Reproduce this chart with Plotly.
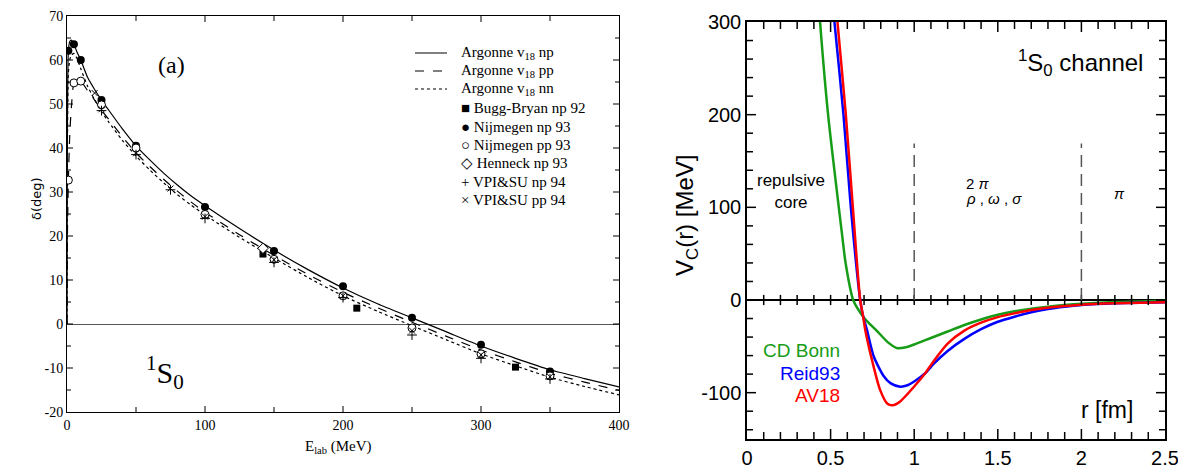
import plotly.graph_objects as go

# the page body has an 8px margin, so the figure is shrunk and shifted by it
OFF = 8
W, H = 1186 - OFF, 468 - OFF


def px(x):
    return (x - OFF) / W


def py(y):
    return 1 - (y - OFF) / H


# ---- panel (a): 1S0 phase shifts ----
e_th = [0, 0.3, 1, 2, 3, 5, 7, 10, 15, 20, 25, 30, 40, 50, 60, 70, 80, 90, 100,
        125, 150, 175, 200, 225, 250, 275, 300, 325, 350, 375, 400]
av18_np = [0, 45, 62.0, 64.2, 64.5, 63.6, 62.0, 60.0, 56.0, 53.3, 50.9, 48.7, 44.4,
           40.5, 37.3, 34.3, 31.6, 29.1, 26.9, 21.7, 16.8, 12.3, 8.2, 4.6, 1.4,
           -1.8, -5.0, -7.8, -10.4, -12.4, -14.3]
av18_pp = [0, 20, 32.7, 43.0, 48.5, 54.8, 55.5, 55.2, 53.0, 50.9, 48.6, 46.6, 42.6,
           38.9, 35.8, 32.9, 30.2, 27.7, 25.4, 20.3, 15.6, 11.2, 7.2, 3.7, 0.4,
           -2.8, -5.9, -8.6, -11.2, -13.2, -15.1]
av18_nn = [0, 40, 57.0, 60.0, 61.0, 61.5, 60.5, 58.0, 54.0, 51.0, 48.3, 46.0, 41.8,
           38.2, 35.0, 32.1, 29.4, 27.0, 24.8, 19.7, 15.0, 10.5, 6.4, 2.9, -0.4,
           -3.6, -6.8, -9.5, -12.1, -14.2, -16.1]

bugg_e = [142, 210, 325]
bugg_d = [15.9, 3.6, -9.8]
nij_np_e = [1, 5, 10, 25, 50, 100, 150, 200, 250, 300, 350]
nij_np_d = [62.1, 63.6, 60.0, 50.9, 40.5, 26.6, 16.6, 8.6, 1.4, -4.7, -10.8]
nij_pp_e = [1, 5, 10, 25, 50, 100, 150, 200, 250, 300, 350]
nij_pp_d = [32.7, 54.8, 55.2, 49.8, 40.0, 24.9, 14.7, 6.4, -0.9, -6.8, -11.8]
henneck_e = [142]
henneck_d = [17.2]
vpi_np_e = [25, 50, 75, 100, 150, 200, 250, 300, 350]
vpi_np_d = [48.5, 38.5, 30.5, 24.0, 14.0, 6.0, -2.5, -7.8, -12.5]
vpi_pp_e = [20, 25, 50, 75, 100, 150, 200, 250, 300, 350]
vpi_pp_d = [52.5, 48.8, 38.8, 30.8, 24.4, 14.6, 6.4, -1.5, -7.0, -12.0]

left_yticks = [-20, -10, 0, 10, 20, 30, 40, 50, 60, 70]
left_ytext = ["-20", "-10", "0", "10", "20", "30", "40", "50", "60", "70"]
left_xmarks = [50, 100, 150, 200, 250, 300, 350]
left_ymarks = [-15, -10, -5, 0, 5, 10, 15, 20, 25, 30, 35, 40, 45, 50, 55, 60, 65]

# ---- right panel: central potentials ----
r_cdb = [0.42, 0.437, 0.485, 0.549, 0.569, 0.59, 0.635, 0.695, 0.735, 0.775, 0.845,
         0.9, 0.95, 1.0, 1.1, 1.2, 1.3, 1.4, 1.5, 1.6, 1.7, 1.8, 1.9, 2.0, 2.2, 2.5]
v_cdb = [345, 300, 200, 100, 70, 39.5, 0, -18, -26, -33, -46, -52, -51, -48, -41,
         -34, -27, -21, -16, -12.2, -9.4, -7.2, -5.4, -4.0, -2.2, -0.7]
r_reid = [0.505, 0.523, 0.577, 0.621, 0.677, 0.695, 0.717, 0.757, 0.817, 0.86, 0.916,
          0.96, 1.0, 1.066, 1.116, 1.2, 1.3, 1.4, 1.5, 1.6, 1.7, 1.8, 1.9, 2.0, 2.2, 2.5]
v_reid = [332, 300, 200, 100, 0, -18, -32, -60.5, -82, -90, -93.5, -92, -88, -79,
          -69, -55, -42, -31.5, -23.5, -18, -13.3, -9.7, -7.2, -5.4, -3.6, -2.5]
r_av18 = [0.525, 0.541, 0.591, 0.633, 0.677, 0.695, 0.707, 0.752, 0.796, 0.84, 0.871,
          0.916, 1.0, 1.066, 1.116, 1.2, 1.3, 1.4, 1.5, 1.6, 1.7, 1.8, 1.9, 2.0, 2.2, 2.5]
v_av18 = [332, 300, 200, 100, 0, -18, -32, -68, -97, -112, -113.6, -109.4, -93.3, -79,
          -66, -47, -33, -24.5, -18.5, -14.4, -10.8, -8.3, -6.5, -5.0, -3.6, -2.5]

right_yticks = [-100, 0, 100, 200, 300]
right_ytext = ["-100", "0", "100", "200", "300"]
right_xmarks = [0.1, 0.2, 0.3, 0.4, 0.5, 0.6, 0.7, 0.8, 0.9, 1.0, 1.1, 1.2, 1.3,
                1.4, 1.5, 1.6, 1.7, 1.8, 1.9, 2.0, 2.1, 2.2, 2.3, 2.4]
right_ymarks = [-140, -120, -100, -80, -60, -40, -20, 0, 20, 40, 60, 80, 100, 120,
                140, 160, 180, 200, 220, 240, 260, 280]

GREEN, BLUE, RED = "#169c16", "#0000ff", "#ff0000"
SERIF = "Liberation Serif"
SANS = "Liberation Sans"

fig = go.Figure()

for y, dash in [(av18_np, "solid"), (av18_pp, "dash"), (av18_nn, "dot")]:
    fig.add_trace(go.Scatter(x=e_th, y=y, mode="lines", line_shape="spline",
                             line=dict(color="black", width=1.2, dash=dash, smoothing=0.6),
                             showlegend=False, hoverinfo="skip"))

mk = [
    (bugg_e, bugg_d, dict(symbol="square", size=7, color="black")),
    (nij_np_e, nij_np_d, dict(symbol="circle", size=8, color="black")),
    (nij_pp_e, nij_pp_d, dict(symbol="circle", size=8, color="white",
                              line=dict(color="black", width=1))),
    (henneck_e, henneck_d, dict(symbol="diamond", size=8, color="white",
                                line=dict(color="black", width=1))),
    (vpi_np_e, vpi_np_d, dict(symbol="cross-thin", size=7, line=dict(color="black", width=1))),
    (vpi_pp_e, vpi_pp_d, dict(symbol="x-thin", size=6, line=dict(color="black", width=1))),
]
for xs, ys, m in mk:
    fig.add_trace(go.Scatter(x=xs, y=ys, mode="markers", marker=m,
                             showlegend=False, hoverinfo="skip"))

for rr, vv, c in [(r_cdb, v_cdb, GREEN), (r_reid, v_reid, BLUE), (r_av18, v_av18, RED)]:
    fig.add_trace(go.Scatter(x=rr, y=vv, mode="lines", xaxis="x2", yaxis="y2",
                             line=dict(color=c, width=2.5, shape="spline", smoothing=0.7),
                             showlegend=False, hoverinfo="skip"))

frame = dict(showgrid=False, showline=True, linecolor="black", mirror=True, ticks="")

fig.update_layout(
    template="none",
    width=W, height=H, margin=dict(l=0, r=0, t=0, b=0),
    paper_bgcolor="white", plot_bgcolor="white",
    xaxis=dict(domain=[px(67), px(619)], range=[0, 400], dtick=100,
               linewidth=1, zeroline=False,
               tickfont=dict(family=SERIF, size=14, color="black"), **frame),
    yaxis=dict(domain=[py(412), py(16)], range=[-20, 70], tickvals=left_yticks,
               ticktext=left_ytext, linewidth=1, zeroline=True, zerolinecolor="#555",
               zerolinewidth=1,
               tickfont=dict(family=SERIF, size=14, color="black"), **frame),
    xaxis2=dict(domain=[px(747), px(1165)], range=[0, 2.5], anchor="y2", dtick=0.5,
                linewidth=1.5, zeroline=False,
                tickfont=dict(family=SANS, size=20, color="black"), **frame),
    yaxis2=dict(domain=[py(439), py(22)], range=[-150, 300], anchor="x2",
                tickvals=right_yticks, ticktext=right_ytext,
                linewidth=1.5, zeroline=True, zerolinecolor="black", zerolinewidth=1.5,
                tickfont=dict(family=SANS, size=20, color="black"), **frame),
)

shapes = []


def vtick(xv, xref, yref, y0, y1, w):
    shapes.append(dict(type="line", xref=xref, yref=yref, x0=xv, x1=xv, y0=y0, y1=y1,
                       line=dict(color="black", width=w)))


def htick(yv, xref, yref, x0, x1, w):
    shapes.append(dict(type="line", xref=xref, yref=yref, x0=x0, x1=x1, y0=yv, y1=yv,
                       line=dict(color="black", width=w)))


# panel (a) ticks: plot area is 552 x 396 px
for xv in left_xmarks:
    f = (6 if xv % 100 == 0 else 5) / 396
    vtick(xv, "x", "y domain", 0, f, 1)
    vtick(xv, "x", "y domain", 1 - f, 1, 1)
for yv in left_ymarks:
    f = (6 if yv % 10 == 0 else 4) / 552
    htick(yv, "x domain", "y", 0, f, 1)
    htick(yv, "x domain", "y", 1 - f, 1, 1)

# right panel ticks: plot area is 418 x 417 px, 1 MeV = 0.927 px
for xv in right_xmarks:
    major = abs(xv * 2 - round(xv * 2)) < 1e-9
    f = (10 if major else 7) / 417
    vtick(xv, "x2", "y2 domain", 0, f, 1.5)
    vtick(xv, "x2", "y2 domain", 1 - f, 1, 1.5)
    vtick(xv, "x2", "y2", -5.5, 5.5, 1.5)
for yv in right_ymarks:
    f = (9 if yv % 100 == 0 else 6) / 418
    htick(yv, "x2 domain", "y2", 0, f, 1.5)
    htick(yv, "x2 domain", "y2", 1 - f, 1, 1.5)

# dashed range separators at r = 1 and r = 2 fm
for xv in [1, 2]:
    shapes.append(dict(type="line", xref="x2", yref="y2", x0=xv, x1=xv, y0=0, y1=169,
                       line=dict(color="#555", width=1.5, dash="12px,7px")))

ann = []


def add(text, x, y, size, family, xanchor="center", color="black", angle=0):
    ann.append(dict(text=text, x=px(x), y=py(y), xref="paper", yref="paper",
                    showarrow=False, xanchor=xanchor, yanchor="middle", textangle=angle,
                    font=dict(family=family, size=size, color=color)))


# panel (a) text
add("(a)", 171, 65, 24, SERIF)
add("<sup>1</sup>S<sub>0</sub>", 165, 372, 30, SERIF)
add("δ(deg)", 37, 199, 13, "DejaVu Sans", angle=-90)
add("E<sub>lab</sub> (MeV)", 338, 447, 15, SERIF)

# legend of panel (a)
leg_lines = [("Argonne v<sub>18</sub> np", "solid"),
             ("Argonne v<sub>18</sub> pp", "dash"),
             ("Argonne v<sub>18</sub> nn", "dot")]
leg_marks = ["■ Bugg-Bryan np 92", "● Nijmegen np 93", "○ Nijmegen pp 93",
             "◇ Henneck np 93", "+ VPI&amp;SU np 94", "× VPI&amp;SU pp 94"]
rows = [53, 71, 89, 108, 127, 145, 163, 182, 200]
for (txt, dash), yy in zip(leg_lines, rows[:3]):
    shapes.append(dict(type="line", xref="paper", yref="paper", x0=px(415), x1=px(447),
                       y0=py(yy), y1=py(yy), line=dict(color="black", width=1, dash=dash)))
    add(txt, 459, yy, 15, SERIF, xanchor="left")
for txt, yy in zip(leg_marks, rows[3:]):
    add(txt, 459, yy, 15, SERIF, xanchor="left")

# right panel text
add("repulsive<br>core", 791, 191, 17, SANS)
add("2 <i>π</i>", 964, 183, 15, SANS, xanchor="left")
add("<i>ρ</i> , <i>ω</i> , <i>σ</i>", 964, 199, 15, SANS, xanchor="left")
add("<i>π</i>", 1119, 193, 15, SANS)
add("<sup>1</sup>S<sub>0</sub> channel", 1145, 63, 24, SANS, xanchor="right")
add("CD Bonn", 842, 350, 19, SANS, xanchor="right", color=GREEN)
add("Reid93", 842, 373, 19, SANS, xanchor="right", color=BLUE)
add("AV18", 842, 395, 19, SANS, xanchor="right", color=RED)
add("r [fm]", 1107, 410, 23, SANS)
add("V<sub>C</sub>(r) [MeV]", 686, 216, 24, SANS, angle=-90)

fig.update_layout(annotations=ann, shapes=shapes)

fig.write_html("out.html")
